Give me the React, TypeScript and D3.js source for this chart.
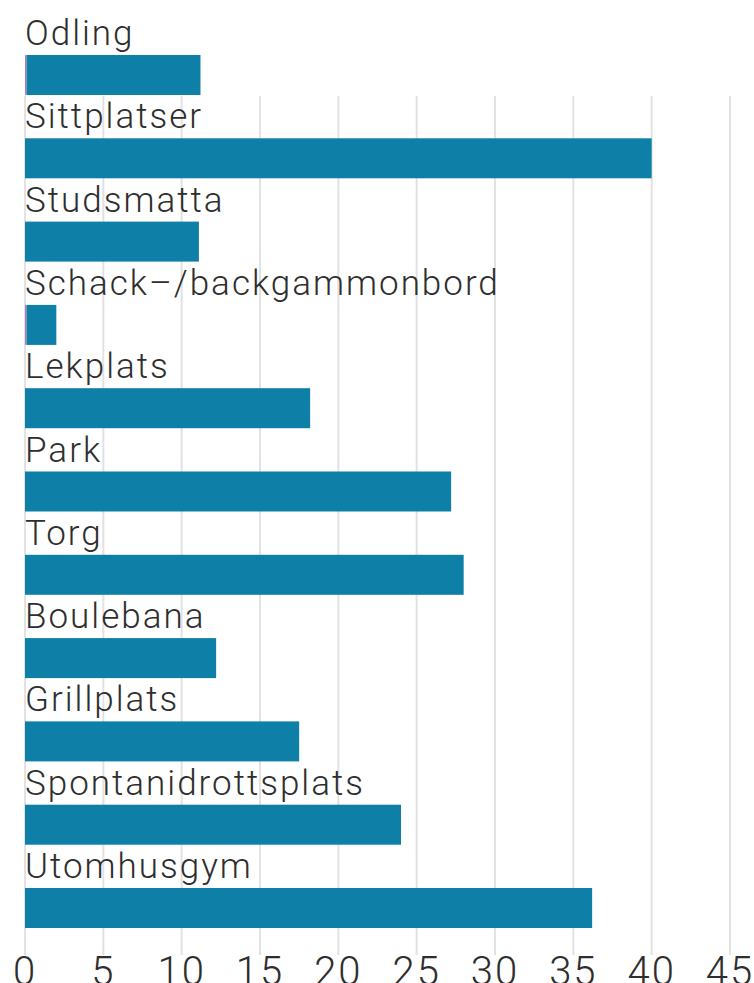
import React from 'react';
import * as d3 from 'd3';

const categories = [
  'Odling',
  'Sittplatser',
  'Studsmatta',
  'Schack–/backgammonbord',
  'Lekplats',
  'Park',
  'Torg',
  'Boulebana',
  'Grillplats',
  'Spontanidrottsplats',
  'Utomhusgym',
];

// main series (teal) and a tiny second series (purple) stacked in front of it
const values = [11.2, 40.0, 11.1, 2.0, 18.2, 27.2, 28.0, 12.2, 17.5, 24.0, 36.2];
const minorValues = [0.1, 0, 0, 0.1, 0, 0, 0, 0, 0, 0, 0];

const ticks = [0, 5, 10, 15, 20, 25, 30, 35, 40, 45];

const W = 754;
const H = 983;

export default function App() {
  const x = d3.scaleLinear().domain([0, 45]).range([25, 730]);
  const y = d3.scaleBand<string>()
    .domain(categories)
    .range([13, 13 + 83.3 * categories.length])
    .padding(0);

  const barOffset = 42;
  const barH = 40;
  const font = 'Roboto, "Liberation Sans", Arial, sans-serif';

  return (
    <svg
      width={W}
      height={H}
      style={{ position: 'absolute', left: 0, top: 0, background: '#fff' }}
    >
      {/* Grid lines */}
      {ticks.map(t => (
        <line
          key={'g' + t}
          x1={x(t)}
          x2={x(t)}
          y1={96}
          y2={955}
          stroke="#e2e2e2"
          strokeWidth={2}
        />
      ))}

      {/* Bars and labels */}
      {categories.map((c, i) => {
        const top = y(c)!;
        return (
          <g key={c}>
            <text
              x={25}
              y={top + 32}
              fontFamily={font}
              fontWeight={300}
              fontSize={35}
              letterSpacing={2}
              fill="#2e2e2e"
            >
              {c}
            </text>
            {minorValues[i] > 0 && (
              <rect
                x={x(0)}
                y={top + barOffset}
                width={x(minorValues[i]) - x(0)}
                height={barH}
                fill="#a77fb3"
              />
            )}
            <rect
              x={x(minorValues[i])}
              y={top + barOffset}
              width={x(values[i]) - x(minorValues[i])}
              height={barH}
              fill="#0e7fa6"
            />
          </g>
        );
      })}

      {/* Tick labels */}
      {ticks.map(t => (
        <text
          key={'t' + t}
          x={x(t)}
          y={985}
          textAnchor="middle"
          fontFamily={font}
          fontWeight={300}
          fontSize={40}
          letterSpacing={2}
          fill="#2e2e2e"
        >
          {t}
        </text>
      ))}
    </svg>
  );
}
